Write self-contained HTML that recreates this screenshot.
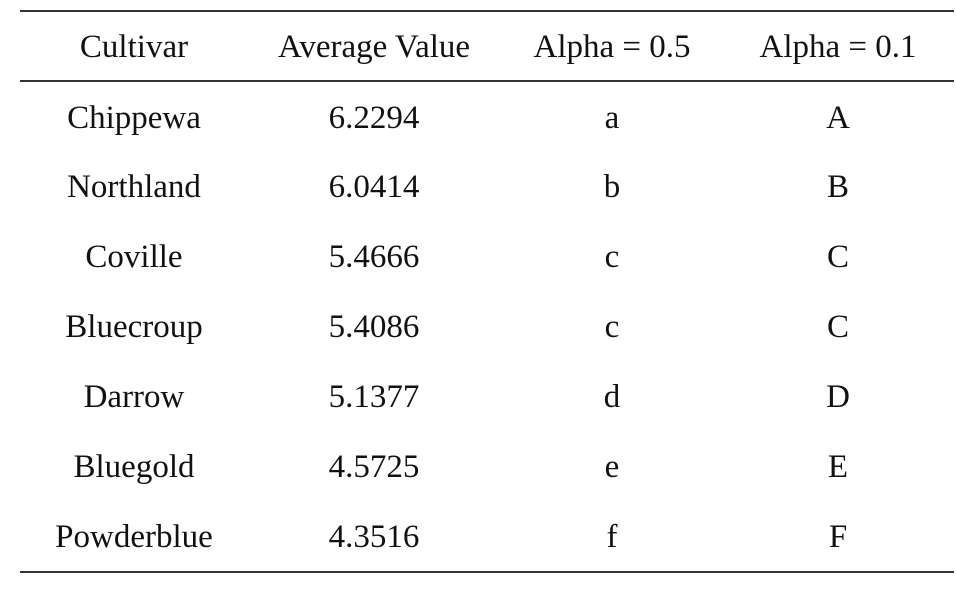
<!DOCTYPE html>
<html><head><style>
body{margin:0;width:956px;height:592px;background:#fff;position:relative;overflow:hidden;font-family:"Liberation Serif",serif;font-size:33px;color:#111}
.l{position:absolute;left:20px;width:934px;height:2px;background:#333}
.t{position:absolute;width:300px;margin-left:-150px;text-align:center;line-height:40px;height:40px}
</style></head><body>
<div class="l" style="top:10px"></div>
<div class="l" style="top:80px"></div>
<div class="l" style="top:571px"></div>
<div id="c"></div>
<script>
var xs=[134,374,612,838];
var rows=[["Cultivar","Average Value","Alpha = 0.5","Alpha = 0.1"],
["Chippewa","6.2294","a","A"],["Northland","6.0414","b","B"],["Coville","5.4666","c","C"],
["Bluecroup","5.4086","c","C"],["Darrow","5.1377","d","D"],["Bluegold","4.5725","e","E"],["Powderblue","4.3516","f","F"]];
var ys=[47,118,187,257,327,397,467,537];var h="";
rows.forEach(function(r,i){r.forEach(function(t,j){h+='<div class="t" style="left:'+xs[j]+'px;top:'+(ys[i]-20)+'px">'+t+'</div>';});});
document.getElementById("c").innerHTML=h;
</script>
</body></html>
